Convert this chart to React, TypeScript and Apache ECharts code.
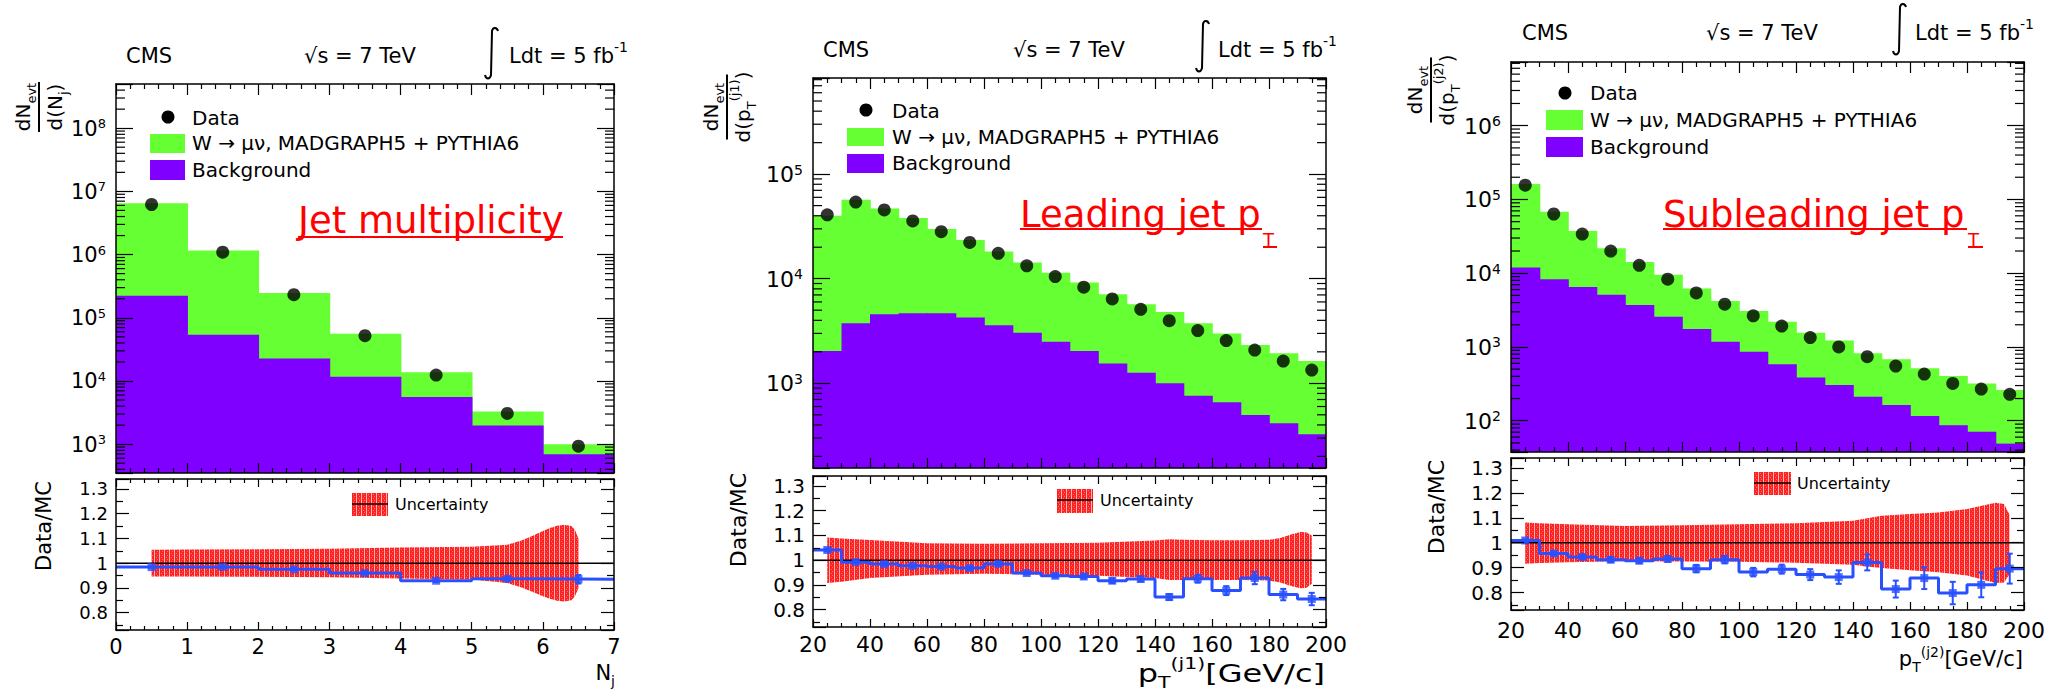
import React, { useEffect, useRef } from 'react';
import * as echarts from 'echarts';

const FONT = "'DejaVu Sans', 'Liberation Sans', sans-serif";
const GREEN = '#66ff33';
const PURPLE = '#7f00ff';
const BLUE = '#2850ff';
const RED = '#ff0000';

// integral sign outline (13 x 52 px box)
echarts.graphic.registerShape(
  'integralSign',
  echarts.graphic.extendPath('M 13 4 C 12 0.5, 8 -0.5, 7 4 L 6 48 C 5 52.5, 1 52.5, 0 48', {})
);

// ---------- Panel 1: jet multiplicity ----------
const njEdges = [0, 1, 2, 3, 4, 5, 6, 7];
const njCenters = [0.5, 1.5, 2.5, 3.5, 4.5, 5.5, 6.5];
const njSignalPlusBkg = [6.5e6, 1.16e6, 2.47e5, 5.6e4, 1.37e4, 3.3e3, 1.0e3];
const njBackground = [2.23e5, 5.4e4, 2.26e4, 1.17e4, 5.6e3, 1.98e3, 690];
const njData = [6.2e6, 1.09e6, 2.32e5, 5.2e4, 1.24e4, 3.07e3, 930];
const njRatio = [0.984, 0.985, 0.975, 0.96, 0.929, 0.937, 0.935];
const njRatioErr = [0.002, 0.002, 0.003, 0.004, 0.005, 0.006, 0.017];
const njBandX = [0.5, 1, 2, 3, 4, 5, 5.5, 5.7, 5.85, 6.0, 6.1, 6.2, 6.3, 6.4, 6.45, 6.5];
const njBandHi = [1.054, 1.055, 1.056, 1.058, 1.063, 1.066, 1.074, 1.092, 1.11, 1.13, 1.142, 1.151, 1.155, 1.15, 1.135, 1.1];
const njBandLo = [0.946, 0.946, 0.945, 0.943, 0.938, 0.934, 0.92, 0.902, 0.885, 0.866, 0.856, 0.848, 0.845, 0.85, 0.865, 0.9];

// ---------- Panel 2: leading jet pT ----------
const pt1Edges = [20, 30, 40, 50, 60, 70, 80, 90, 100, 110, 120, 130, 140, 150, 160, 170, 180, 190, 200];
const pt1Centers = [25, 35, 45, 55, 65, 75, 85, 95, 105, 115, 125, 135, 145, 155, 165, 175, 185, 195];
const pt1SignalPlusBkg = [4.0e4, 5.7e4, 4.7e4, 3.8e4, 2.98e4, 2.35e4, 1.82e4, 1.43e4, 1.14e4, 9.2e3, 7.1e3, 5.7e3, 4.8e3, 3.75e3, 3.0e3, 2.33e3, 1.94e3, 1.63e3];
const pt1Background = [2.04e3, 3.75e3, 4.57e3, 4.68e3, 4.68e3, 4.25e3, 3.6e3, 3.05e3, 2.5e3, 2.04e3, 1.55e3, 1.26e3, 1.0e3, 760, 658, 498, 414, 325];
const pt1Data = [4.08e4, 5.4e4, 4.55e4, 3.57e4, 2.82e4, 2.22e4, 1.75e4, 1.33e4, 1.05e4, 8.3e3, 6.4e3, 5.1e3, 3.97e3, 3.19e3, 2.56e3, 2.08e3, 1.63e3, 1.34e3];
const pt1Ratio = [1.041, 0.992, 0.984, 0.977, 0.974, 0.968, 0.985, 0.948, 0.937, 0.934, 0.917, 0.924, 0.851, 0.925, 0.877, 0.928, 0.861, 0.843];
const pt1RatioErr = [0.005, 0.004, 0.004, 0.004, 0.005, 0.005, 0.006, 0.006, 0.007, 0.008, 0.009, 0.01, 0.012, 0.016, 0.018, 0.025, 0.023, 0.025];
const pt1BandX = [25, 30, 40, 60, 80, 100, 120, 140, 145, 150, 160, 170, 180, 184, 188, 191, 193, 195];
const pt1BandHi = [1.092, 1.088, 1.081, 1.068, 1.066, 1.068, 1.07, 1.079, 1.084, 1.082, 1.08, 1.08, 1.082, 1.09, 1.105, 1.114, 1.113, 1.1];
const pt1BandLo = [0.908, 0.913, 0.928, 0.941, 0.945, 0.941, 0.937, 0.928, 0.92, 0.92, 0.92, 0.92, 0.918, 0.91, 0.895, 0.887, 0.888, 0.905];

// ---------- Panel 3: subleading jet pT ----------
const pt2Edges = [20, 30, 40, 50, 60, 70, 80, 90, 100, 110, 120, 130, 140, 150, 160, 170, 180, 190, 200];
const pt2Centers = [25, 35, 45, 55, 65, 75, 85, 95, 105, 115, 125, 135, 145, 155, 165, 175, 185, 195];
const pt2SignalPlusBkg = [1.62e5, 6.8e4, 3.73e4, 2.18e4, 1.42e4, 9.5e3, 6.2e3, 4.2e3, 3.07e3, 2.2e3, 1.56e3, 1.22e3, 820, 680, 514, 404, 321, 261];
const pt2Background = [1.2e4, 8.3e3, 6.5e3, 5.1e3, 3.7e3, 2.57e3, 1.75e3, 1.18e3, 861, 582, 387, 305, 211, 163, 116, 87, 71, 49];
const pt2Data = [1.56e5, 6.35e4, 3.4e4, 2.0e4, 1.28e4, 8.3e3, 5.4e3, 3.8e3, 2.65e3, 1.92e3, 1.34e3, 1.0e3, 738, 552, 430, 321, 269, 228];
const pt2Ratio = [1.009, 0.957, 0.943, 0.932, 0.928, 0.935, 0.896, 0.932, 0.882, 0.894, 0.872, 0.862, 0.921, 0.814, 0.858, 0.798, 0.831, 0.896];
const pt2RatioErr = [0.004, 0.006, 0.008, 0.01, 0.01, 0.011, 0.015, 0.015, 0.017, 0.018, 0.022, 0.027, 0.032, 0.034, 0.044, 0.045, 0.05, 0.06];
const pt2BandX = [25, 30, 40, 60, 80, 100, 120, 140, 145, 150, 160, 170, 180, 186, 190, 193, 195];
const pt2BandHi = [1.081, 1.078, 1.074, 1.067, 1.07, 1.074, 1.078, 1.088, 1.098, 1.108, 1.115, 1.121, 1.135, 1.15, 1.16, 1.155, 1.11];
const pt2BandLo = [0.916, 0.919, 0.922, 0.926, 0.925, 0.924, 0.92, 0.912, 0.905, 0.899, 0.89, 0.881, 0.868, 0.85, 0.838, 0.84, 0.875];

type Box = { left: number; top: number; width: number; height: number };
interface Panel {
  edges: number[]; centers: number[]; total: number[]; bkg: number[]; data: number[];
  ratio: number[]; ratioErr: number[]; bandX: number[]; bandHi: number[]; bandLo: number[];
  xMin: number; xMax: number; xInterval: number; xMinor: number;
  yMin: number; yMax: number;
  main: Box; rat: Box;
  yFont: number; rFont: number; xFont: number; xMargin: number;
}

const R_MIN = 0.73;
const R_MAX = 1.34;

const panels: Panel[] = [
  {
    edges: njEdges, centers: njCenters, total: njSignalPlusBkg, bkg: njBackground, data: njData,
    ratio: njRatio, ratioErr: njRatioErr, bandX: njBandX, bandHi: njBandHi, bandLo: njBandLo,
    xMin: 0, xMax: 7, xInterval: 1, xMinor: 5, yMin: 350, yMax: 5e8,
    main: { left: 116, top: 84, width: 498, height: 389 },
    rat: { left: 116, top: 479, width: 498, height: 151 },
    yFont: 21, rFont: 18, xFont: 21, xMargin: 6,
  },
  {
    edges: pt1Edges, centers: pt1Centers, total: pt1SignalPlusBkg, bkg: pt1Background, data: pt1Data,
    ratio: pt1Ratio, ratioErr: pt1RatioErr, bandX: pt1BandX, bandHi: pt1BandHi, bandLo: pt1BandLo,
    xMin: 20, xMax: 200, xInterval: 20, xMinor: 4, yMin: 155, yMax: 8.3e5,
    main: { left: 813, top: 78, width: 513, height: 390 },
    rat: { left: 813, top: 476, width: 513, height: 151 },
    yFont: 22, rFont: 20, xFont: 22, xMargin: 6,
  },
  {
    edges: pt2Edges, centers: pt2Centers, total: pt2SignalPlusBkg, bkg: pt2Background, data: pt2Data,
    ratio: pt2Ratio, ratioErr: pt2RatioErr, bandX: pt2BandX, bandHi: pt2BandHi, bandLo: pt2BandLo,
    xMin: 20, xMax: 200, xInterval: 20, xMinor: 4, yMin: 37.7, yMax: 7.3e6,
    main: { left: 1511, top: 62, width: 513, height: 390 },
    rat: { left: 1511, top: 458, width: 513, height: 152 },
    yFont: 22, rFont: 20, xFont: 22, xMargin: 9,
  },
];

function logMinorTicks(min: number, max: number) {
  const out: number[] = [];
  for (let d = Math.floor(Math.log10(min)); d <= Math.ceil(Math.log10(max)); d++) {
    for (let m = 2; m <= 9; m++) {
      const v = m * Math.pow(10, d);
      if (v > min && v < max) out.push(v);
    }
  }
  return out;
}

function drawTile(ctx: CanvasRenderingContext2D, ox: number, oy: number) {
  ctx.fillStyle = '#ff2020';
  ctx.fillRect(ox, oy, 5, 4);
  ctx.fillStyle = '#ffb4b4';
  ctx.fillRect(ox + 4, oy, 1, 4);
  ctx.fillStyle = '#ff7070';
  ctx.fillRect(ox + 1, oy + 1, 1, 1);
  ctx.fillRect(ox + 2, oy + 3, 1, 1);
}

function makeTile() {
  const c = document.createElement('canvas');
  c.width = 5; c.height = 4;
  drawTile(c.getContext('2d')!, 0, 0);
  return c;
}

function makeSwatch(w: number, h: number) {
  const c = document.createElement('canvas');
  c.width = w; c.height = h;
  const ctx = c.getContext('2d')!;
  for (let x = 0; x < w; x += 5) for (let y = 0; y < h; y += 4) drawTile(ctx, x, y);
  return c.toDataURL();
}

const lineSt = { color: '#000', width: 1.5 };
const tickSt = { color: '#000', width: 1.2 };

function xAx(grid: number, pos: string, p: Panel, major: number, minor: number, labels: boolean) {
  return {
    type: 'value', gridIndex: grid, position: pos, min: p.xMin, max: p.xMax, interval: p.xInterval, z: 10,
    axisLine: { show: true, onZero: false, lineStyle: lineSt },
    axisTick: { show: true, inside: true, length: major, lineStyle: tickSt },
    minorTick: { show: true, splitNumber: p.xMinor, length: minor, lineStyle: tickSt },
    splitLine: { show: false },
    axisLabel: labels
      ? { show: true, margin: p.xMargin, fontSize: p.xFont, fontFamily: FONT, color: '#000' }
      : { show: false },
  };
}

function logAx(grid: number, pos: string, p: Panel, labels: boolean) {
  const fs = p.yFont;
  return {
    type: 'log', logBase: 10, gridIndex: grid, position: pos, min: p.yMin, max: p.yMax, z: 10,
    axisLine: { show: true, onZero: false, lineStyle: lineSt },
    axisTick: { show: true, inside: true, length: 17, lineStyle: tickSt },
    minorTick: { show: false },
    splitLine: { show: false },
    axisLabel: labels
      ? {
          show: true, margin: 10, color: '#000', fontFamily: FONT,
          formatter: (v: number) => {
            const e = Math.log10(v);
            const r = Math.round(e);
            return Math.abs(e - r) < 1e-6 ? `{b|10}{e|${r}}` : '';
          },
          rich: {
            b: { fontSize: fs, lineHeight: fs + 1, verticalAlign: 'bottom', fontFamily: FONT, color: '#000' },
            e: { fontSize: Math.round(fs * 0.62), lineHeight: 14, padding: [0, 0, 12, 0], verticalAlign: 'top', fontFamily: FONT, color: '#000' },
          },
        }
      : { show: false },
  };
}

function ratAx(grid: number, pos: string, p: Panel, labels: boolean) {
  return {
    type: 'value', gridIndex: grid, position: pos, min: R_MIN, max: R_MAX, splitNumber: 6, z: 10,
    axisLine: { show: true, onZero: false, lineStyle: lineSt },
    axisTick: { show: true, inside: true, length: 13, lineStyle: tickSt },
    minorTick: { show: true, splitNumber: 2, length: 7, lineStyle: tickSt },
    splitLine: { show: false },
    axisLabel: labels
      ? {
          show: true, margin: 8, fontSize: p.rFont, fontFamily: FONT, color: '#000',
          showMinLabel: false, showMaxLabel: false,
          formatter: (v: number) => {
            if (Math.abs(v * 10 - Math.round(v * 10)) > 1e-6) return '';
            return Math.abs(v - 1) < 1e-9 ? '1' : v.toFixed(1);
          },
        }
      : { show: false },
  };
}

const richFor = (fs: number, lh = 1.5) => ({
  n: { fontSize: fs, fontFamily: FONT, lineHeight: Math.round(fs * lh) },
  sub: { fontSize: Math.round(fs * 0.65), fontFamily: FONT, lineHeight: Math.round(fs * 0.65), verticalAlign: 'bottom' },
  sup: { fontSize: Math.round(fs * 0.65), fontFamily: FONT, lineHeight: Math.round(fs * 0.65), verticalAlign: 'top' },
});

function txt(x: number, y: number, text: string, fs: number, o: any = {}) {
  const align = o.align || 'left';
  const valign = o.valign || 'middle';
  return {
    type: 'text', x, y, z: 100, silent: true, rotation: o.rotation || 0, scaleX: o.scaleX || 1,
    style: {
      text, fontFamily: FONT, fontSize: fs, fill: o.fill || '#000',
      align, verticalAlign: valign, textAlign: align, textVerticalAlign: valign,
      rich: o.rich,
    },
  };
}
function ln(x1: number, y1: number, x2: number, y2: number, stroke = '#000', w = 1.5) {
  return { type: 'line', z: 100, silent: true, shape: { x1, y1, x2, y2 }, style: { stroke, lineWidth: w } };
}
function rc(x: number, y: number, w: number, h: number, fill: any) {
  return { type: 'rect', z: 100, silent: true, shape: { x, y, width: w, height: h }, style: { fill } };
}
function swatch(x: number, y: number, w: number, h: number) {
  return { type: 'image', z: 100, silent: true, style: { image: makeSwatch(w, h), x, y, width: w, height: h } };
}
function integral(x: number, y: number) {
  return { type: 'integralSign', x, y, z: 100, silent: true, style: { stroke: '#000', fill: 'none', lineWidth: 2 } };
}

function fraction(x: number, y: number, L: number, num: string, den: string, fs: number) {
  const rich = richFor(fs);
  return {
    type: 'group', x, y, rotation: Math.PI / 2, z: 100, silent: true,
    children: [
      { type: 'line', z: 100, shape: { x1: -L / 2, y1: 0, x2: L / 2, y2: 0 }, style: { stroke: '#000', lineWidth: 2 } },
      { type: 'text', z: 100, x: 0, y: -1, style: { text: num, rich, fill: '#000', align: 'center', verticalAlign: 'bottom', textAlign: 'center', textVerticalAlign: 'bottom' } },
      { type: 'text', z: 100, x: 0, y: 1, style: { text: den, rich, fill: '#000', align: 'center', verticalAlign: 'top', textAlign: 'center', textVerticalAlign: 'top' } },
    ],
  };
}

function buildOption() {
  const grid: any[] = [];
  const xAxis: any[] = [];
  const yAxis: any[] = [];
  const series: any[] = [];

  panels.forEach((p, i) => {
    const gm = 2 * i;
    const gr = 2 * i + 1;
    grid.push({ ...p.main, containLabel: false, outerBoundsMode: 'none' });
    grid.push({ ...p.rat, containLabel: false, outerBoundsMode: 'none' });
    const xb = xAxis.length;
    xAxis.push(xAx(gm, 'bottom', p, 10, 5, false));
    xAxis.push(xAx(gm, 'top', p, 11, 5, false));
    xAxis.push(xAx(gr, 'bottom', p, 8, 4, true));
    xAxis.push(xAx(gr, 'top', p, 8, 4, false));
    const yb = yAxis.length;
    yAxis.push(logAx(gm, 'left', p, true));
    yAxis.push(logAx(gm, 'right', p, false));
    yAxis.push(ratAx(gr, 'left', p, true));
    yAxis.push(ratAx(gr, 'right', p, false));

    const n = p.total.length;
    const histRect = (fill: string) => (params: any, api: any) => {
      const a = api.coord([api.value(0), api.value(2)]);
      const b = api.coord([api.value(1), p.yMin]);
      const extra = params.dataIndex < n - 1 ? 0.8 : 0;
      return { type: 'rect', shape: { x: a[0], y: a[1], width: b[0] - a[0] + extra, height: b[1] - a[1] }, style: { fill } };
    };

    series.push({
      type: 'custom', xAxisIndex: xb, yAxisIndex: yb, silent: true, z: 2,
      data: p.total.map((v, k) => [p.edges[k], p.edges[k + 1], v]),
      encode: { x: [0, 1], y: 2 },
      renderItem: histRect(GREEN),
    });
    series.push({
      type: 'custom', xAxisIndex: xb, yAxisIndex: yb, silent: true, z: 3,
      data: p.bkg.map((v, k) => [p.edges[k], p.edges[k + 1], v]),
      encode: { x: [0, 1], y: 2 },
      renderItem: histRect(PURPLE),
    });
    series.push({
      type: 'custom', xAxisIndex: xb, yAxisIndex: yb, silent: true, z: 4,
      data: logMinorTicks(p.yMin, p.yMax).map((v) => [p.xMin, v]),
      encode: { x: 0, y: 1 },
      renderItem: (params: any, api: any) => {
        const cs = params.coordSys;
        const y = api.coord([api.value(0), api.value(1)])[1];
        const st = { stroke: '#000', lineWidth: 1.2 };
        return {
          type: 'group',
          children: [
            { type: 'line', shape: { x1: cs.x, y1: y, x2: cs.x + 9, y2: y }, style: st },
            { type: 'line', shape: { x1: cs.x + cs.width - 9, y1: y, x2: cs.x + cs.width, y2: y }, style: st },
          ],
        };
      },
    });
    series.push({
      type: 'scatter', xAxisIndex: xb, yAxisIndex: yb, silent: true, z: 5,
      data: p.centers.map((c, k) => [c, p.data[k]]),
      symbol: 'circle', symbolSize: 13, itemStyle: { color: '#000' },
    });

    // ratio panel
    const xr = xb + 2;
    const yr = yb + 2;
    const bandPattern = { image: makeTile(), repeat: 'repeat' };
    series.push({
      type: 'custom', xAxisIndex: xr, yAxisIndex: yr, silent: true, z: 2,
      data: [[p.bandX[0], p.bandLo[0]]],
      encode: { x: 0, y: 1 },
      renderItem: (params: any, api: any) => {
        const pts: number[][] = [];
        p.bandX.forEach((x, k) => pts.push(api.coord([x, p.bandHi[k]])));
        for (let k = p.bandX.length - 1; k >= 0; k--) pts.push(api.coord([p.bandX[k], p.bandLo[k]]));
        return { type: 'polygon', shape: { points: pts }, style: { fill: bandPattern } };
      },
    });
    series.push({
      type: 'line', xAxisIndex: xr, yAxisIndex: yr, silent: true, z: 3,
      data: [[p.xMin, 1], [p.xMax, 1]], symbol: 'none', lineStyle: { color: '#000', width: 1.5 },
    });
    series.push({
      type: 'line', xAxisIndex: xr, yAxisIndex: yr, silent: true, z: 4, step: 'end',
      data: p.edges.map((e, k) => [e, p.ratio[Math.min(k, p.ratio.length - 1)]]),
      symbol: 'none', lineStyle: { color: BLUE, width: 3 },
    });
    series.push({
      type: 'custom', xAxisIndex: xr, yAxisIndex: yr, silent: true, z: 5,
      data: p.centers.map((c, k) => [c, p.ratio[k], p.ratioErr[k]]),
      encode: { x: 0, y: 1 },
      renderItem: (params: any, api: any) => {
        const x = api.value(0), v = api.value(1), e = api.value(2);
        const t = api.coord([x, v + e]);
        const b = api.coord([x, v - e]);
        const st = { stroke: BLUE, lineWidth: 2 };
        return {
          type: 'group',
          children: [
            { type: 'line', shape: { x1: t[0], y1: t[1], x2: b[0], y2: b[1] }, style: st },
            { type: 'line', shape: { x1: t[0] - 3, y1: t[1], x2: t[0] + 3, y2: t[1] }, style: st },
            { type: 'line', shape: { x1: b[0] - 3, y1: b[1], x2: b[0] + 3, y2: b[1] }, style: st },
          ],
        };
      },
    });
    series.push({
      type: 'scatter', xAxisIndex: xr, yAxisIndex: yr, silent: true, z: 6,
      data: p.centers.map((c, k) => [c, p.ratio[k]]),
      symbol: 'rect', symbolSize: 8, itemStyle: { color: BLUE },
    });
  });

  const graphic: any[] = [
    // ---- panel 1 ----
    txt(126, 56, 'CMS', 21),
    txt(304, 56, '√s = 7 TeV', 21),
    integral(485, 27),
    txt(509, 56, '{n|Ldt = 5 fb}{sup|-1}', 21, { rich: richFor(21) }),
    { type: 'circle', z: 100, silent: true, shape: { cx: 168, cy: 117, r: 6.5 }, style: { fill: '#000' } },
    txt(192, 118, 'Data', 20),
    rc(150, 134, 35, 19, GREEN),
    txt(192, 143, 'W → μν, MADGRAPH5 + PYTHIA6', 20),
    rc(150, 160, 35, 20, PURPLE),
    txt(192, 170, 'Background', 20),
    txt(298, 220, 'Jet multiplicity', 37, { fill: RED }),
    ln(298, 237, 563, 237, RED, 2),
    fraction(39, 107, 50, '{n|dN}{sub|evt}', '{n|d(N}{sub|j}{n|)}', 20),
    swatch(352, 493, 36, 23),
    ln(352, 504, 388, 504, '#000', 1.5),
    txt(395, 504, 'Uncertainty', 16),
    txt(44, 526, 'Data/MC', 21, { align: 'center', rotation: Math.PI / 2 }),
    txt(615, 673, '{n|N}{sub|j}', 21, { align: 'right', rich: richFor(21, 1.4) }),

    // ---- panel 2 ----
    txt(823, 50, 'CMS', 21),
    txt(1013, 50, '√s = 7 TeV', 21),
    integral(1196, 20),
    txt(1218, 50, '{n|Ldt = 5 fb}{sup|-1}', 21, { rich: richFor(21) }),
    { type: 'circle', z: 100, silent: true, shape: { cx: 866, cy: 110, r: 6.5 }, style: { fill: '#000' } },
    txt(892, 111, 'Data', 20),
    rc(847, 128, 37, 18, GREEN),
    txt(892, 137, 'W → μν, MADGRAPH5 + PYTHIA6', 20),
    rc(847, 154, 37, 19, PURPLE),
    txt(892, 163, 'Background', 20),
    txt(1020, 214, 'Leading jet p', 37, { fill: RED }),
    ln(1020, 229, 1262, 229, RED, 2),
    txt(1263, 239, 'T', 18, { fill: RED }),
    ln(1263, 247, 1277, 247, RED, 2),
    fraction(727, 107, 65, '{n|dN}{sub|evt}', '{n|d(p}{sub|T}{sup|(j1)}{n|)}', 20),
    swatch(1057, 489, 36, 24),
    ln(1057, 500, 1093, 500, '#000', 1.5),
    txt(1100, 500, 'Uncertainty', 16),
    txt(738, 520, 'Data/MC', 22, { align: 'center', rotation: Math.PI / 2 }),
    txt(1325, 673, '{n|p}{sub|T}{sup|(j1)}{n|[GeV/c]}', 25, { align: 'right', rich: richFor(25, 1.4), scaleX: 1.28 }),

    // ---- panel 3 ----
    txt(1522, 33, 'CMS', 21),
    txt(1706, 33, '√s = 7 TeV', 21),
    integral(1893, 3),
    txt(1915, 33, '{n|Ldt = 5 fb}{sup|-1}', 21, { rich: richFor(21) }),
    { type: 'circle', z: 100, silent: true, shape: { cx: 1565, cy: 93, r: 6.5 }, style: { fill: '#000' } },
    txt(1590, 93, 'Data', 20),
    rc(1546, 110, 37, 20, GREEN),
    txt(1590, 120, 'W → μν, MADGRAPH5 + PYTHIA6', 20),
    rc(1546, 137, 37, 20, PURPLE),
    txt(1590, 147, 'Background', 20),
    txt(1663, 214, 'Subleading jet p', 37, { fill: RED }),
    ln(1663, 229, 1967, 229, RED, 2),
    txt(1968, 239, 'T', 18, { fill: RED }),
    ln(1968, 247, 1983, 247, RED, 2),
    fraction(1431, 90, 65, '{n|dN}{sub|evt}', '{n|d(p}{sub|T}{sup|(j2)}{n|)}', 20),
    swatch(1754, 472, 37, 23),
    ln(1754, 483, 1791, 483, '#000', 1.5),
    txt(1797, 483, 'Uncertainty', 16),
    txt(1436, 507, 'Data/MC', 22, { align: 'center', rotation: Math.PI / 2 }),
    txt(2023, 659, '{n|p}{sub|T}{sup|(j2)}{n|[GeV/c]}', 21, { align: 'right', rich: richFor(21, 1.4) }),
  ];

  return {
    animation: false,
    backgroundColor: '#fff',
    textStyle: { fontFamily: FONT },
    grid, xAxis, yAxis, series, graphic,
  };
}

export default function App() {
  const ref = useRef<HTMLDivElement>(null);
  useEffect(() => {
    if (!ref.current) return;
    const chart = echarts.init(ref.current, null, { renderer: 'svg' });
    chart.setOption(buildOption() as any);
    return () => chart.dispose();
  }, []);
  return (
    <div
      ref={ref}
      style={{ position: 'absolute', left: 0, top: 0, width: 2054, height: 693, background: '#fff' }}
    />
  );
}
